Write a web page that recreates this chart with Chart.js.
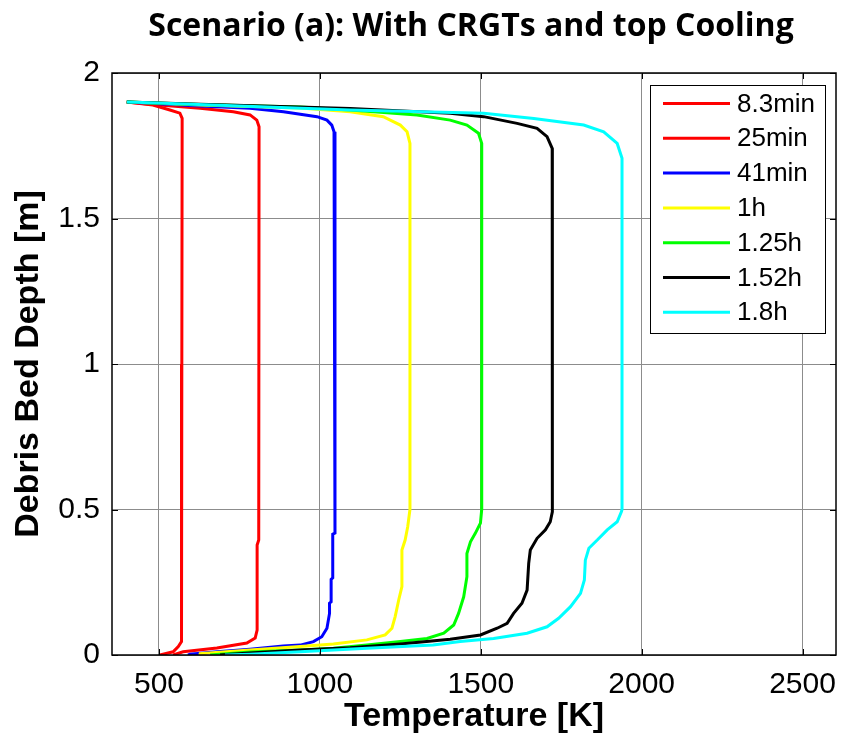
<!DOCTYPE html>
<html>
<head>
<meta charset="utf-8">
<script src="https://cdn.jsdelivr.net/npm/chart.js@4.4.1/dist/chart.umd.min.js"></script>
<style>
    html, body { margin: 0; padding: 0; background: #fff; }
    #wrap { width: 841px; height: 743px; }
</style>
</head>
<body>
<div id="wrap"><canvas id="profile-chart" width="841" height="743"></canvas></div>
<script>
// Debris bed temperature profiles - depth vs temperature at several times

// ========== DATA ==========
const seriesLabels = ['8.3min', '25min', '41min', '1h', '1.25h', '1.52h', '1.8h'];
const seriesColors = ['#ff0000', '#ff0000', '#0000ff', '#ffff00', '#00ff00', '#000000', '#00ffff'];

const temp83min = [400, 481, 534, 565, 572, 571, 570, 560, 544, 503];
const depth83min = [1.900, 1.890, 1.873, 1.862, 1.844, 1.000, 0.046, 0.029, 0.011, 0];

const temp25min = [400, 472, 628, 731, 783, 804, 811, 810, 805, 805, 799, 773, 680, 575, 544];
const depth25min = [1.900, 1.893, 1.879, 1.867, 1.856, 1.838, 1.815, 0.395, 0.378, 0.086, 0.058, 0.041, 0.024, 0.011, 0];

const temp41min = [400, 628, 783, 887, 991, 1022, 1037, 1044, 1047, 1047, 1040, 1040, 1035, 1035, 1030, 1030, 1022, 1006, 980, 939, 886, 783, 680, 596, 590];
const depth41min = [1.900, 1.887, 1.879, 1.867, 1.850, 1.838, 1.821, 1.798, 1.781, 0.419, 0.415, 0.265, 0.260, 0.183, 0.178, 0.143, 0.092, 0.063, 0.046, 0.034, 0.031, 0.020, 0.011, 0.003, 0];

const temp1h = [400, 628, 939, 1094, 1197, 1250, 1271, 1280, 1280, 1273, 1265, 1255, 1255, 1245, 1234, 1224, 1203, 1146, 1042, 939, 783, 628, 627];
const depth1h = [1.900, 1.890, 1.880, 1.867, 1.850, 1.821, 1.798, 1.758, 0.500, 0.441, 0.395, 0.361, 0.235, 0.189, 0.132, 0.092, 0.069, 0.052, 0.038, 0.029, 0.017, 0.005, 0];

const temp125h = [400, 628, 939, 1094, 1302, 1405, 1457, 1493, 1503, 1503, 1499, 1483, 1468, 1457, 1457, 1447, 1431, 1416, 1385, 1333, 1250, 1146, 1042, 939, 783, 659];
const depth125h = [1.900, 1.892, 1.883, 1.873, 1.856, 1.838, 1.821, 1.793, 1.758, 0.500, 0.453, 0.418, 0.389, 0.349, 0.269, 0.200, 0.143, 0.103, 0.075, 0.057, 0.046, 0.034, 0.023, 0.017, 0.010, 0];

const temp152h = [400, 628, 1094, 1405, 1509, 1613, 1675, 1706, 1722, 1723, 1722, 1716, 1701, 1675, 1654, 1649, 1644, 1628, 1602, 1582, 1551, 1499, 1405, 1250, 1094, 939, 783, 690];
const depth152h = [1.900, 1.893, 1.878, 1.862, 1.850, 1.827, 1.810, 1.781, 1.741, 0.500, 0.492, 0.458, 0.430, 0.401, 0.361, 0.315, 0.223, 0.178, 0.143, 0.109, 0.092, 0.069, 0.054, 0.038, 0.025, 0.017, 0.007, 0];

const temp18h = [400, 472, 1094, 1509, 1665, 1820, 1882, 1924, 1939, 1939, 1937, 1924, 1893, 1862, 1836, 1825, 1822, 1810, 1779, 1742, 1706, 1644, 1540, 1436, 1352, 1146, 939, 783, 705];
const depth18h = [1.900, 1.898, 1.873, 1.862, 1.844, 1.821, 1.798, 1.758, 1.707, 0.500, 0.492, 0.458, 0.430, 0.395, 0.367, 0.326, 0.258, 0.212, 0.166, 0.126, 0.097, 0.075, 0.057, 0.046, 0.034, 0.023, 0.011, 0.003, 0];

const xTicks = [500, 1000, 1500, 2000, 2500];
const yTicks = [0, 0.5, 1, 1.5, 2];

const allTemps = [temp83min, temp25min, temp41min, temp1h, temp125h, temp152h, temp18h];
const allDepths = [depth83min, depth25min, depth41min, depth1h, depth125h, depth152h, depth18h];

// ========== PLUGINS ==========
// axes box, inward tick marks, title and legend (MATLAB style)
const matlabDecor = {
    id: 'matlabDecor',
    afterDraw(chart) {
        const { ctx, chartArea: a, scales } = chart;
        ctx.save();

        // inward tick marks
        ctx.strokeStyle = '#000';
        ctx.lineWidth = 1;
        ctx.beginPath();
        xTicks.forEach(v => {
            const x = Math.round(scales.x.getPixelForValue(v)) + 0.5;
            ctx.moveTo(x, a.bottom); ctx.lineTo(x, a.bottom - 6);
            ctx.moveTo(x, a.top); ctx.lineTo(x, a.top + 6);
        });
        yTicks.forEach(v => {
            const y = Math.round(scales.y.getPixelForValue(v)) + 0.5;
            ctx.moveTo(a.left, y); ctx.lineTo(a.left + 6, y);
            ctx.moveTo(a.right, y); ctx.lineTo(a.right - 6, y);
        });
        ctx.stroke();

        // box
        ctx.lineWidth = 1.5;
        ctx.strokeRect(a.left, a.top, a.right - a.left, a.bottom - a.top);

        // title
        ctx.fillStyle = '#000';
        ctx.font = 'bold 32px "Open Sans"';
        ctx.textAlign = 'center';
        ctx.textBaseline = 'middle';
        ctx.fillText('Scenario (a): With CRGTs and top Cooling', 471, 27);

        // legend
        const lx = 650, ly = 85, lw = 175, lh = 248;
        ctx.fillStyle = '#fff';
        ctx.fillRect(lx, ly, lw, lh);
        ctx.lineWidth = 1;
        ctx.strokeStyle = '#000';
        ctx.strokeRect(lx + 0.5, ly + 0.5, lw, lh);
        ctx.font = '26px "Liberation Sans", Arial';
        ctx.textAlign = 'left';
        seriesLabels.forEach((lab, i) => {
            const y = 103.5 + i * 34.8;
            ctx.strokeStyle = seriesColors[i];
            ctx.lineWidth = 3;
            ctx.beginPath();
            ctx.moveTo(663, y); ctx.lineTo(730, y);
            ctx.stroke();
            ctx.fillStyle = '#000';
            ctx.fillText(lab, 737, y + 1);
        });
        ctx.restore();
    }
};

// ========== CHART ==========
function createProfileChart() {
    const ctx = document.getElementById('profile-chart');

    const datasets = seriesLabels.map((label, i) => ({
        label: label,
        data: allTemps[i].map((t, k) => ({ x: t, y: allDepths[i][k] })),
        borderColor: seriesColors[i],
        backgroundColor: seriesColors[i],
        borderWidth: 3,
        pointRadius: 0,
        showLine: true,
        tension: 0,
        order: seriesLabels.length - 1 - i
    }));

    // fixed axis boxes so the plot area sits at 112..836 x 73..655
    const fixX = s => { s.height = 88; s.paddingLeft = 0; s.paddingRight = 0; };
    const fixY = s => { s.width = 112; s.paddingTop = 0; s.paddingBottom = 0; };

    new Chart(ctx, {
        type: 'scatter',
        data: { datasets },
        options: {
            responsive: false,
            animation: false,
            layout: { padding: { top: 73, right: 5, left: 0, bottom: 0 } },
            plugins: {
                legend: { display: false },
                tooltip: { enabled: false }
            },
            scales: {
                x: {
                    type: 'linear',
                    min: 354,
                    max: 2604,
                    afterBuildTicks: s => { s.ticks = xTicks.map(v => ({ value: v })); },
                    afterFit: fixX,
                    ticks: {
                        color: '#000',
                        padding: 12,
                        maxRotation: 0,
                        font: { size: 30, family: '"Liberation Sans", Arial' },
                        callback: v => String(v)
                    },
                    grid: { color: '#8c8c8c', lineWidth: 1, drawTicks: false },
                    border: { display: false },
                    title: {
                        display: true,
                        text: 'Temperature [K]',
                        color: '#000',
                        font: { size: 34, weight: 'bold', family: '"Liberation Sans", Arial' },
                        padding: { top: 0, bottom: 6 }
                    }
                },
                y: {
                    type: 'linear',
                    min: 0,
                    max: 2,
                    afterBuildTicks: s => { s.ticks = yTicks.map(v => ({ value: v })); },
                    afterFit: fixY,
                    ticks: {
                        color: '#000',
                        padding: 12,
                        font: { size: 30, family: '"Liberation Sans", Arial' },
                        callback: v => String(v)
                    },
                    grid: { color: '#8c8c8c', lineWidth: 1, drawTicks: false },
                    border: { display: false },
                    title: {
                        display: true,
                        text: 'Debris Bed Depth [m]',
                        color: '#000',
                        font: { size: 34, weight: 'bold', family: '"Liberation Sans", Arial' },
                        padding: { top: 8, bottom: 0 }
                    }
                }
            }
        },
        plugins: [matlabDecor]
    });
}

window.addEventListener('load', createProfileChart);
</script>
</body>
</html>
